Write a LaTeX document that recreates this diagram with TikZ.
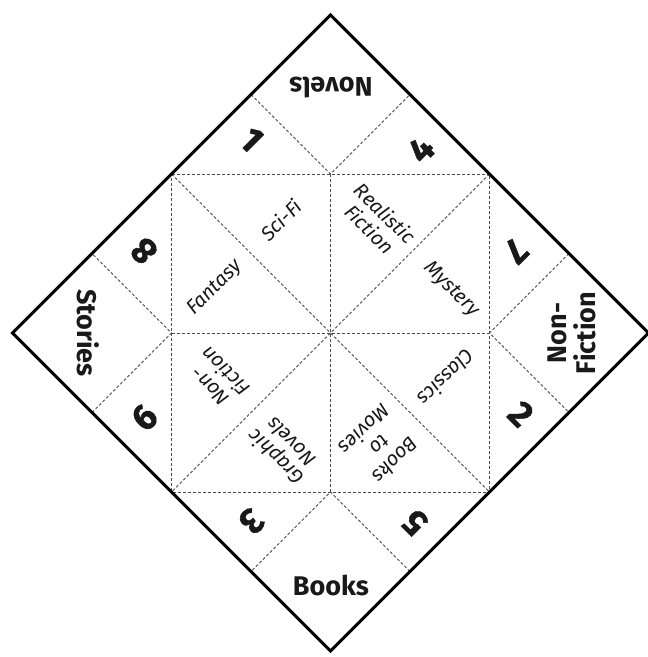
\documentclass[tikz,border=0pt]{standalone}
\usepackage{fontspec}
\setmainfont{Fira Sans}
\newfontfamily\heavy{Fira Sans}[BoldFeatures={FakeBold=1.2}]
\tikzset{
  outline/.style={line width=3pt, line join=miter, black},
  fold/.style={line width=0.8pt, black!70, dash pattern=on 3pt off 2pt},
  flap/.style={font=\bfseries\fontsize{27}{29}\selectfont, inner sep=0pt, align=center, text=black!90},
  num/.style={font=\heavy\bfseries\fontsize{36}{36}\selectfont, inner sep=0pt, text=black!90},
  genre/.style={font=\itshape\fontsize{20}{22}\selectfont, align=center, inner sep=0pt, text=black!90}
}
\begin{document}
\begin{tikzpicture}[x=1pt,y=-1pt]
\fill[white] (0,0) rectangle (648,657);
\useasboundingbox (0,0) rectangle (648,657);
% outer vertices
\coordinate (T) at (330.5,15);
\coordinate (B) at (330.5,651);
\coordinate (L) at (12.5,333);
\coordinate (R) at (648.5,333);
% inner square corners
\coordinate (TL) at (171.5,174);
\coordinate (TR) at (489.5,174);
\coordinate (BR) at (489.5,492);
\coordinate (BL) at (171.5,492);
% inner edge midpoints
\coordinate (MT) at (330.5,174);
\coordinate (MR) at (489.5,333);
\coordinate (MB) at (330.5,492);
\coordinate (ML) at (171.5,333);
% quarter points on outer edges
\coordinate (QTl) at (251,94.5);
\coordinate (QTr) at (410,94.5);
\coordinate (QRt) at (569,253.5);
\coordinate (QRb) at (569,412.5);
\coordinate (QBr) at (410,571.5);
\coordinate (QBl) at (251,571.5);
\coordinate (QLb) at (92,412.5);
\coordinate (QLt) at (92,253.5);
% fold lines
\draw[fold] (TL) -- (TR) -- (BR) -- (BL) -- cycle;
\draw[fold] (MT) -- (MB);
\draw[fold] (ML) -- (MR);
\draw[fold] (TL) -- (BR);
\draw[fold] (TR) -- (BL);
\draw[fold] (QTl) -- (MT) -- (QTr);
\draw[fold] (QRt) -- (MR) -- (QRb);
\draw[fold] (QBr) -- (MB) -- (QBl);
\draw[fold] (QLb) -- (ML) -- (QLt);
% outline
\draw[outline] (T) -- (R) -- (B) -- (L) -- cycle;
% flap labels
\node[flap, rotate=180] (novels) at (331,88) {Novels};
\node[flap] (books) at (331,585) {Books};
\node[flap, rotate=-90] (stories) at (88,333) {Stories};
\node[flap, rotate=90] (nonfic) at (572,333) {Non-\\Fiction};
% numbers
\node[num, rotate=-45] (n1) at (251.5,139.5) {1};
\node[num, rotate=45] (n4) at (421,149.5) {4};
\node[num, rotate=135] (n8) at (144,251) {8};
\node[num, rotate=45] (n6) at (144.5,417.5) {6};
\node[num, rotate=-135] (n7) at (515.5,251) {7};
\node[num, rotate=-45] (n2) at (521,414) {2};
\node[num, rotate=-135] (n3) at (251.5,521.5) {3};
\node[num, rotate=135] (n5) at (415,522.5) {5};
% genres
\node[genre, rotate=45] (scifi) at (281,220) {Sci-Fi};
\node[genre, rotate=45] (fantasy) at (215,288) {Fantasy};
\node[genre, rotate=-45] (realistic) at (377.5,221) {Realistic\\Fiction};
\node[genre, rotate=-45] (mystery) at (451.5,289.5) {Mystery};
\node[genre, rotate=135] (gnonfic) at (218,379) {Non-\\Fiction};
\node[genre, rotate=225] (classics) at (446.5,378) {Classics};
\node[genre, rotate=135] (graphic) at (283,450) {Graphic\\Novels};
\node[genre, rotate=225] (movies) at (380,445) {Books\\to\\Movies};
\end{tikzpicture}
\end{document}
